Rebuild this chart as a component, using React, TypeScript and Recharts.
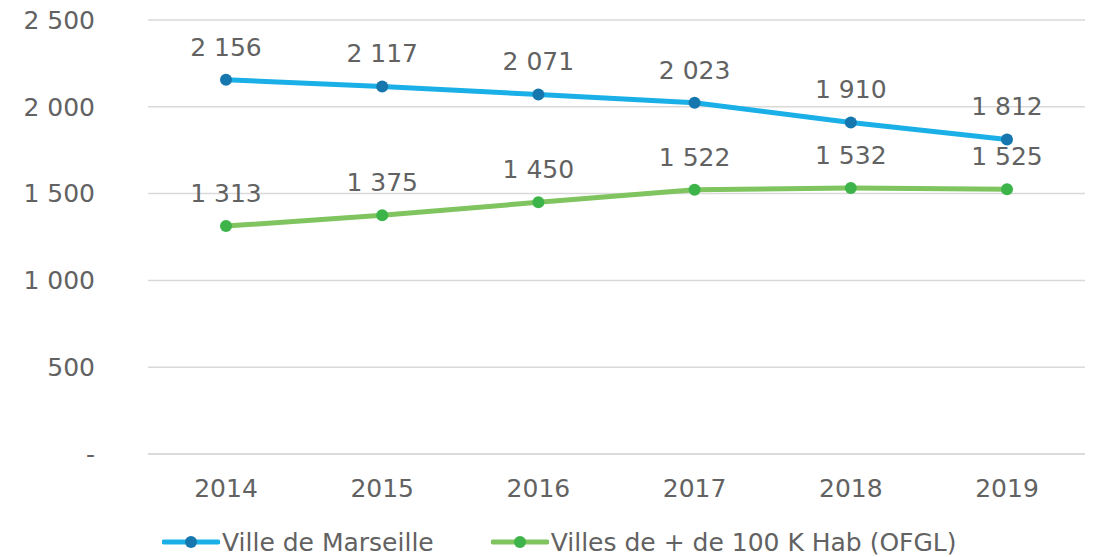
import React from 'react';
import { LineChart, Line, XAxis, YAxis, CartesianGrid, Legend, LabelList } from 'recharts';

// values
const years = ['2014', '2015', '2016', '2017', '2018', '2019'];
const marseille = [2156, 2117, 2071, 2023, 1910, 1812];
const grandesVilles = [1313, 1375, 1450, 1522, 1532, 1525];
const yTicks = [0, 500, 1000, 1500, 2000, 2500];

const seriesInfo = [
  { key: 'marseille', name: 'Ville de Marseille', line: '#1aafe6', dot: '#1677ae' },
  { key: 'villes', name: 'Villes de + de 100 K Hab (OFGL)', line: '#7fc45f', dot: '#3cb44a' },
];

const data = years.map((y, i) => ({
  year: y,
  marseille: marseille[i],
  villes: grandesVilles[i],
}));

const FONT = 'Verdana, "DejaVu Sans", sans-serif';
const TEXT = '#626262';
const SIZE = 25;

// french style thousands: "2 156", zero shown as "-"
const fmt = (v: number) => {
  if (v === 0) return '-';
  return String(v).replace(/\B(?=(\d{3})+(?!\d))/g, ' ');
};

const LegendContent = () => (
  <div style={{ display: 'flex', height: 30, alignItems: 'center', paddingLeft: 162, fontFamily: FONT, fontSize: SIZE, color: TEXT }}>
    {seriesInfo.map((s, i) => (
      <div key={s.key} style={{ display: 'flex', alignItems: 'center', marginRight: i === 0 ? 57 : 0 }}>
        <svg width={58} height={16} style={{ marginRight: 2 }}>
          <line x1={2} y1={8} x2={56} y2={8} stroke={s.line} strokeWidth={5} strokeLinecap="round" />
          <circle cx={29} cy={8} r={6} fill={s.dot} />
        </svg>
        <span>{s.name}</span>
      </div>
    ))}
  </div>
);

const App: React.FC = () => {
  return (
    <div style={{ position: 'absolute', left: 0, top: 0, background: '#fff' }}>
      <LineChart width={1094} height={557} data={data} margin={{ top: 20, right: 9, left: 0, bottom: 0 }}>
        <CartesianGrid vertical={false} stroke="#d9d9d9" strokeWidth={1.5} />
        <XAxis
          dataKey="year"
          axisLine={{ stroke: '#d9d9d9', strokeWidth: 1.5 }}
          tickLine={false}
          tickMargin={19}
          height={73}
          padding={{ left: 78, right: 78 }}
          tick={{ fill: TEXT, fontSize: SIZE, fontFamily: FONT }}
        />
        <YAxis
          width={148}
          domain={[0, 2500]}
          ticks={yTicks}
          axisLine={false}
          tickLine={false}
          tickMargin={47}
          tickFormatter={fmt}
          tick={{ fill: TEXT, fontSize: SIZE, fontFamily: FONT }}
        />
        <Legend verticalAlign="bottom" content={<LegendContent />} />
        {seriesInfo.map((s) => (
          <Line
            key={s.key}
            type="linear"
            dataKey={s.key}
            name={s.name}
            stroke={s.line}
            strokeWidth={5}
            dot={{ r: 6, fill: s.dot, stroke: s.dot, strokeWidth: 0 }}
            activeDot={false}
            isAnimationActive={false}
          >
            <LabelList
              dataKey={s.key}
              position="top"
              offset={24}
              formatter={(v: any) => fmt(Number(v))}
              style={{ fill: TEXT, fontSize: SIZE, fontFamily: FONT }}
            />
          </Line>
        ))}
      </LineChart>
    </div>
  );
};

export default App;
